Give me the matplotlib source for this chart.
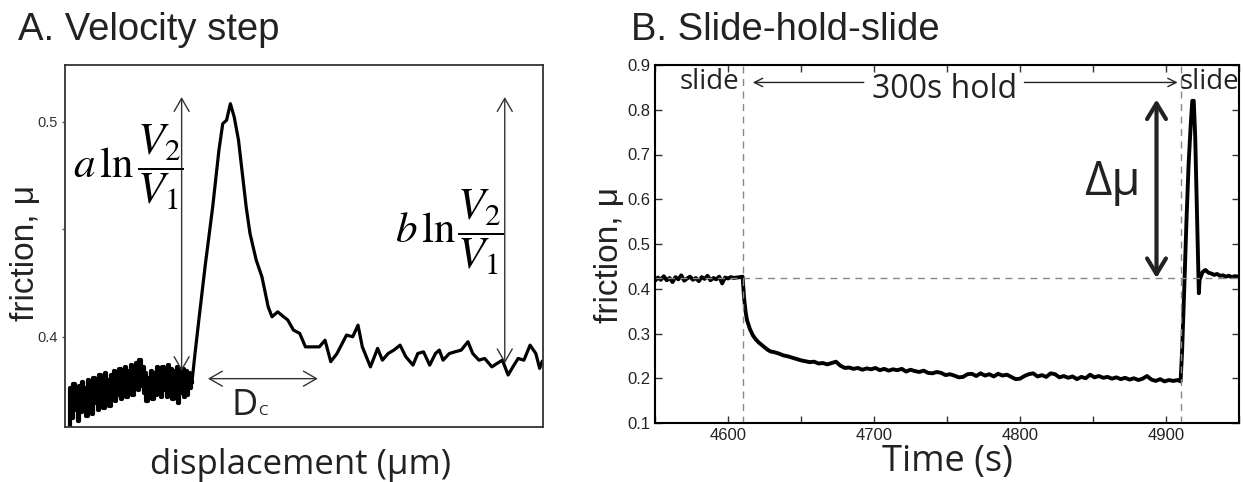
import matplotlib
matplotlib.use("Agg")
import matplotlib.pyplot as plt
from matplotlib.patches import ArrowStyle

# ---------------- Panel A data (velocity step) ----------------
dispA = [1.0, 1.3, 1.6, 1.9, 2.2, 2.5, 2.8, 3.1, 3.4, 3.7, 4.0, 4.3, 4.6, 4.9, 5.2, 5.5, 5.8, 6.1, 6.4, 6.7,
         7.0, 7.3, 7.6, 7.9, 8.2, 8.5, 8.8, 9.1, 9.4, 9.7, 10.0, 10.3, 10.6, 10.9, 11.2, 11.5, 11.8, 12.1, 12.4, 12.7,
         13.0, 13.3, 13.6, 13.9, 14.2, 14.5, 14.8, 15.1, 15.4, 15.7, 16.0, 16.3, 16.6, 16.9, 17.2, 17.5, 17.8, 18.1,
         18.4, 18.7, 19.0, 19.3, 19.6, 19.9, 20.2, 20.5, 20.8, 21.1, 21.4, 21.7, 22.0, 22.3, 22.6, 22.9, 23.2, 23.5,
         23.8, 24.1, 24.4, 24.7, 25.0, 25.3, 25.6, 25.9, 26.2, 26.5,
         26.6, 27.2, 28.0, 29.3, 30.9, 32.2, 33.0, 33.8, 34.6, 35.4, 36.3, 37.1, 37.9, 38.7, 40.0, 41.2, 42.5, 43.3,
         44.5, 45.3, 46.6, 47.8, 49.1, 50.3, 51.5, 53.2, 54.4, 55.6, 56.9, 58.9, 60.2, 61.3, 62.2, 63.9, 65.4, 66.4,
         67.6, 68.8, 70.1, 71.3, 72.8, 73.8, 75.0, 76.3, 77.5, 78.3, 79.1, 80.4, 81.6, 82.9, 84.3, 85.3, 86.6, 87.8,
         89.3, 90.4, 91.5, 92.7, 93.7, 94.8, 96.0, 97.3, 98.5, 99.3, 99.8]
fricA = [0.359, 0.376, 0.362, 0.378, 0.366, 0.374, 0.361, 0.377, 0.365, 0.379, 0.368, 0.376, 0.363, 0.380, 0.367,
         0.378, 0.364, 0.381, 0.369, 0.377, 0.366, 0.382, 0.370, 0.379, 0.367, 0.383, 0.371, 0.380, 0.368, 0.382,
         0.372, 0.384, 0.370, 0.381, 0.373, 0.385, 0.371, 0.383, 0.374, 0.386, 0.372, 0.384, 0.375, 0.387, 0.373,
         0.385, 0.376, 0.388, 0.375, 0.389, 0.377, 0.386, 0.374, 0.383, 0.370, 0.381, 0.372, 0.384, 0.371, 0.383,
         0.373, 0.386, 0.374, 0.385, 0.372, 0.386, 0.375, 0.384, 0.372, 0.387, 0.374, 0.385, 0.371, 0.384, 0.373,
         0.386, 0.369, 0.383, 0.374, 0.385, 0.372, 0.384, 0.373, 0.383, 0.376, 0.379,
         0.3798, 0.3922, 0.4078, 0.4326, 0.4605, 0.4868, 0.4992, 0.5008, 0.5085, 0.5023, 0.4915, 0.4760, 0.4605,
         0.4481, 0.4357, 0.4279, 0.4140, 0.4093, 0.4116, 0.4101, 0.4078, 0.4031, 0.4016, 0.3953, 0.3953, 0.3953,
         0.3984, 0.3884, 0.3922, 0.4008, 0.4000, 0.4054, 0.3953, 0.3860, 0.3946, 0.3891, 0.3922, 0.3938, 0.3961,
         0.3907, 0.3868, 0.3922, 0.3930, 0.3868, 0.3922, 0.3938, 0.3891, 0.3922, 0.3930, 0.3938, 0.3977, 0.3922,
         0.3891, 0.3899, 0.3860, 0.3876, 0.3891, 0.3822, 0.3860, 0.3899, 0.3891, 0.3961, 0.3922, 0.3853, 0.3884]
n_noisyA = 86  # samples in the noisy low-velocity segment
yticksA = [0.4, 0.45, 0.5]
yticklabelsA = ["0.4", "", "0.5"]

# ---------------- Panel B data (slide-hold-slide) ----------------
timeB = [4550, 4552, 4554, 4556, 4558, 4560, 4562, 4564, 4566, 4568, 4570, 4572, 4574, 4576, 4578, 4580,
         4582, 4584, 4586, 4588, 4590, 4592, 4594, 4596, 4598, 4600, 4602, 4604, 4606, 4608, 4610,
         4611, 4612, 4613, 4615, 4617, 4619, 4621, 4624, 4627, 4629, 4632, 4635, 4638, 4641, 4644, 4647,
         4650, 4653, 4656, 4659, 4662, 4665, 4668, 4671, 4674, 4677, 4680, 4683, 4686, 4689, 4692, 4695,
         4698, 4701, 4704, 4707, 4710, 4713, 4716, 4719, 4722, 4725, 4728, 4731, 4734, 4737, 4740, 4743,
         4746, 4749, 4752, 4755, 4758, 4761, 4764, 4767, 4770, 4773, 4776, 4779, 4782, 4785, 4788, 4791,
         4794, 4797, 4800, 4803, 4806, 4809, 4812, 4815, 4818, 4821, 4824, 4827, 4830, 4833, 4836, 4839,
         4842, 4845, 4848, 4851, 4854, 4857, 4860, 4863, 4866, 4869, 4872, 4875, 4878, 4881, 4884, 4887,
         4890, 4893, 4896, 4899, 4902, 4905, 4908, 4910,
         4911, 4912.5, 4914, 4915.5, 4917, 4918, 4919, 4920, 4921, 4922, 4922.5, 4923, 4925, 4927, 4929,
         4931, 4933, 4935, 4937, 4939, 4941, 4943, 4945, 4947, 4950]
fricB = [0.418, 0.425, 0.420, 0.428, 0.419, 0.424, 0.415, 0.426, 0.421, 0.430, 0.418, 0.423, 0.427, 0.420,
         0.424, 0.417, 0.426, 0.422, 0.429, 0.419, 0.424, 0.421, 0.427, 0.412, 0.425, 0.423, 0.426, 0.424,
         0.425, 0.426, 0.427,
         0.380, 0.350, 0.330, 0.310, 0.296, 0.287, 0.280, 0.272, 0.264, 0.260, 0.258, 0.255, 0.251, 0.249,
         0.246, 0.243, 0.240, 0.238, 0.236, 0.237, 0.233, 0.234, 0.231, 0.234, 0.237, 0.228, 0.223, 0.224,
         0.221, 0.223, 0.219, 0.222, 0.220, 0.223, 0.218, 0.221, 0.217, 0.220, 0.218, 0.221, 0.215, 0.219,
         0.216, 0.214, 0.217, 0.212, 0.211, 0.214, 0.212, 0.207, 0.209, 0.206, 0.202, 0.203, 0.209, 0.210,
         0.205, 0.211, 0.206, 0.209, 0.204, 0.210, 0.206, 0.208, 0.203, 0.198, 0.199, 0.205, 0.209, 0.211,
         0.204, 0.207, 0.203, 0.211, 0.209, 0.202, 0.205, 0.201, 0.204, 0.198, 0.203, 0.200, 0.208, 0.202,
         0.205, 0.201, 0.203, 0.199, 0.202, 0.198, 0.201, 0.197, 0.200, 0.196, 0.199, 0.205, 0.197, 0.194,
         0.198, 0.193, 0.196, 0.194, 0.196, 0.193,
         0.260, 0.400, 0.550, 0.680, 0.770, 0.820, 0.820, 0.740, 0.600, 0.450, 0.390, 0.420, 0.437, 0.442,
         0.436, 0.434, 0.431, 0.433, 0.429, 0.430, 0.427, 0.429, 0.426, 0.428, 0.427]
xticksB = [4600, 4700, 4800, 4900]
yticksB = [0.1, 0.2, 0.3, 0.4, 0.5, 0.6, 0.7, 0.8, 0.9]
hold_start, hold_end = 4610, 4910
steady_mu = 0.425

SANS = ["Liberation Sans", "DejaVu Sans"]
HUM = ["Open Sans", "DejaVu Sans"]
INK = "#222222"

W, H = 1245, 482
fig = plt.figure(figsize=(W / 100, H / 100), dpi=100)

def fx(px):
    return px / W

def fy(py):
    return 1 - py / H

# ---------------- Panel A ----------------
axA = fig.add_axes([fx(65), fy(427), fx(543 - 65), (427 - 65) / H])
axA.plot(dispA[:n_noisyA], fricA[:n_noisyA], color="black", lw=3.0, drawstyle="steps-mid")
axA.plot(dispA[n_noisyA - 1:], fricA[n_noisyA - 1:], color="black", lw=2.3)
axA.set_xlim(0, 100)
axA.set_ylim(0.358, 0.5265)
axA.set_xticks([])
axA.set_yticks(yticksA)
axA.set_yticklabels(yticklabelsA, fontsize=10.5, family=SANS, color="#333333")
axA.tick_params(axis="y", length=2, width=1, color="#555555", pad=3)
for s in axA.spines.values():
    s.set_color("#333333")
    s.set_linewidth(1.3)

thin = ArrowStyle("<->", head_length=0.47, head_width=0.27)
for (x0, y0, x1, y1) in [(24.4, 0.5116, 24.4, 0.3840), (92.0, 0.5116, 92.0, 0.3876),
                         (29.9, 0.3805, 52.9, 0.3805)]:
    axA.annotate("", xy=(x0, y0), xytext=(x1, y1),
                 arrowprops=dict(arrowstyle=thin, lw=1.0, color="#333333", mutation_scale=20,
                                 shrinkA=0, shrinkB=0))
axA.text(1.7, 0.4744, r"$a\,\ln$", fontsize=31, math_fontfamily="stix", ha="left", va="baseline")
axA.text(15.0, 0.4744, r"$\dfrac{V_2}{V_1}$", fontsize=32, math_fontfamily="stix", ha="left",
         va="baseline")
axA.text(69.0, 0.4443, r"$b\,\ln$", fontsize=31, math_fontfamily="stix", ha="left", va="baseline")
axA.text(82.0, 0.4443, r"$\dfrac{V_2}{V_1}$", fontsize=32, math_fontfamily="stix", ha="left",
         va="baseline")
axA.text(34.9, 0.3637, "D", fontsize=26, family=HUM, ha="left", va="baseline", color=INK)
axA.text(40.4, 0.3637, "C", fontsize=11, family=HUM, ha="left", va="baseline", color=INK)

fig.text(fx(18), fy(30), "A. Velocity step", fontsize=27.5, family=SANS, ha="left", va="center",
         color=INK)
fig.text(fx(25), fy(253), "friction, μ", fontsize=24, family=SANS, rotation=90, ha="center",
         va="center", color=INK)
fig.text(fx(301), fy(465), "displacement (μm)", fontsize=25, family=HUM, ha="center", va="center",
         color=INK)

# ---------------- Panel B ----------------
axB = fig.add_axes([fx(655), fy(423), fx(1239 - 655), (423 - 65) / H])
axB.plot(timeB, fricB, color="black", lw=2.8)
axB.set_xlim(4550, 4950)
axB.set_ylim(0.1, 0.9)
axB.set_xticks(xticksB)
axB.set_xticks([4550, 4650, 4750, 4850, 4950], minor=True)
axB.set_yticks(yticksB)
axB.set_xticklabels([str(t) for t in xticksB], fontsize=12, family=SANS, color=INK)
axB.set_yticklabels([f"{v:.1f}" for v in yticksB], fontsize=12, family=SANS, color=INK)
axB.tick_params(which="both", direction="in", length=5, width=1, top=True, right=True,
                color="#333333")
for s in axB.spines.values():
    s.set_color("black")
    s.set_linewidth(1.5)

dash = (0, (5, 4))
axB.axvline(hold_start, color="#888888", lw=1, ls=dash)
axB.axvline(hold_end, color="#888888", lw=1, ls=dash)
axB.axhline(steady_mu, color="#888888", lw=1, ls=dash)

small = ArrowStyle("->", head_length=0.3, head_width=0.15)
axB.annotate("", xy=(4617, 0.861), xytext=(4693, 0.861),
             arrowprops=dict(arrowstyle=small, lw=1.0, color=INK, mutation_scale=20,
                             shrinkA=0, shrinkB=0))
axB.annotate("", xy=(4908, 0.861), xytext=(4803, 0.861),
             arrowprops=dict(arrowstyle=small, lw=1.0, color=INK, mutation_scale=20,
                             shrinkA=0, shrinkB=0))
big = ArrowStyle("<->", head_length=0.56, head_width=0.34)
axB.annotate("", xy=(4893.5, 0.823), xytext=(4893.5, 0.424),
             arrowprops=dict(arrowstyle=big, lw=3.0, color=INK, mutation_scale=20,
                             shrinkA=0, shrinkB=0))
axB.text(4587, 0.861, "slide", fontsize=20, family=HUM, ha="center", va="center", color=INK)
axB.text(4930, 0.861, "slide", fontsize=20, family=HUM, ha="center", va="center", color=INK)
axB.text(4748, 0.845, "300s hold", fontsize=23, family=HUM, ha="center", va="center", color=INK)
axB.text(4863, 0.637, "Δμ", fontsize=34, family=HUM, ha="center", va="center", color=INK)

fig.text(fx(631), fy(30), "B. Slide-hold-slide", fontsize=27.5, family=SANS, ha="left", va="center",
         color=INK)
fig.text(fx(610), fy(255), "friction, μ", fontsize=24, family=SANS, rotation=90, ha="center",
         va="center", color=INK)
fig.text(fx(947), fy(462), "Time (s)", fontsize=26, family=HUM, ha="center", va="center", color=INK)

fig.savefig("out.png", dpi=100, facecolor="white")
